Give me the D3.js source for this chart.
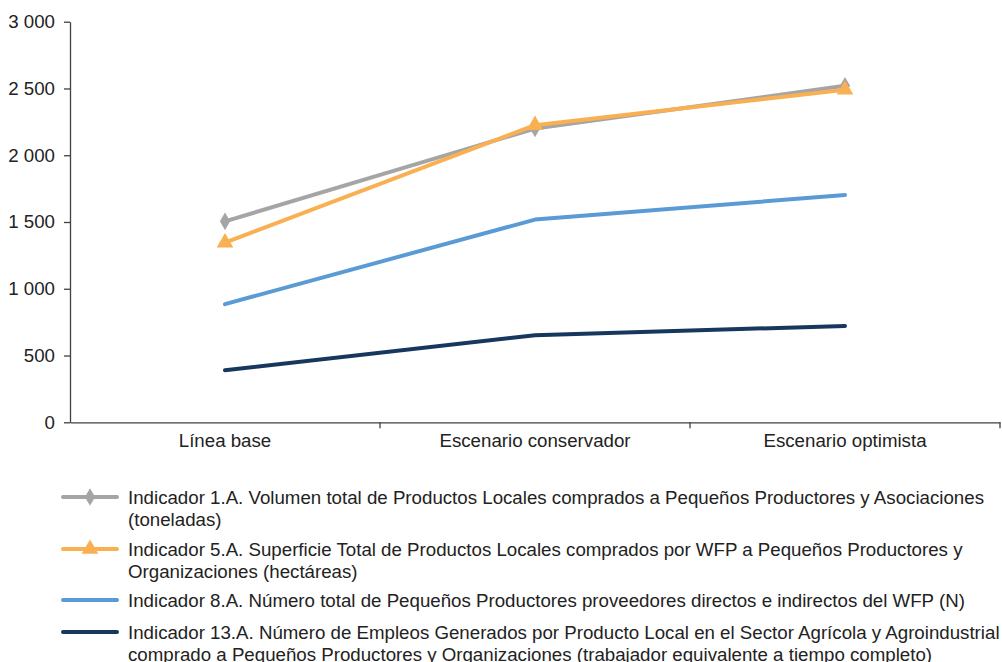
<!DOCTYPE html>
<html>
<head>
<meta charset="utf-8">
<script src="https://cdn.jsdelivr.net/npm/d3@7"></script>
<style>
  body { margin: 0; background: #fff; }
  svg { display: block; font-family: "Liberation Sans", Arial, sans-serif; }
</style>
</head>
<body>
<svg id="chart" width="1002" height="662"></svg>
<script>
const categories = ["Línea base", "Escenario conservador", "Escenario optimista"];
const yTicks = [0, 500, 1000, 1500, 2000, 2500, 3000];

const ind1 = [1505, 2200, 2520];
const ind5 = [1345, 2225, 2490];
const ind8 = [885, 1518, 1702];
const ind13 = [390, 652, 722];

const seriesNames = [
  ["Indicador 1.A. Volumen total de Productos Locales comprados a Pequeños Productores y Asociaciones", "(toneladas)"],
  ["Indicador 5.A. Superficie Total de Productos Locales comprados por WFP a Pequeños Productores y", "Organizaciones (hectáreas)"],
  ["Indicador 8.A. Número total de Pequeños Productores proveedores directos e indirectos del WFP (N)"],
  ["Indicador 13.A. Número de Empleos Generados por Producto Local en el Sector Agrícola y Agroindustrial", "comprado a Pequeños Productores y Organizaciones (trabajador equivalente a tiempo completo)"]
];

const series = [
  { values: ind1, color: "#a5a5a5", marker: "diamond", name: seriesNames[0] },
  { values: ind5, color: "#f8b052", marker: "triangle", name: seriesNames[1] },
  { values: ind8, color: "#5b9bd5", marker: null, name: seriesNames[2] },
  { values: ind13, color: "#17375e", marker: null, name: seriesNames[3] }
];

const svg = d3.select("#chart");
const margin = { left: 70, right: 1000, top: 21.7, bottom: 422.3 };
const axisColor = "#404040";
const fontSize = "18.7px";
const fontFam = "'Liberation Sans', Arial, sans-serif";

const x = d3.scaleBand().domain(categories).range([margin.left, margin.right]);
const y = d3.scaleLinear().domain([0, 3000]).range([margin.bottom, margin.top]);

const fmt = v => d3.format(",")(v).replace(/,/g, " ");

// y axis
const yAxis = svg.append("g")
  .attr("transform", `translate(${margin.left},0)`)
  .call(d3.axisLeft(y).tickValues(yTicks).tickSize(6).tickFormat(fmt).tickSizeOuter(0));
yAxis.select(".domain").attr("stroke", axisColor).attr("stroke-width", 1.3);
yAxis.selectAll(".tick line").attr("stroke", axisColor).attr("stroke-width", 1.3);
yAxis.selectAll(".tick text").attr("x", -15).attr("fill", "#222")
  .style("font-size", fontSize).style("font-family", fontFam);

// x axis
const xAxis = svg.append("g")
  .attr("transform", `translate(0,${margin.bottom})`)
  .call(d3.axisBottom(x).tickSize(0).tickSizeOuter(0));
xAxis.select(".domain").attr("stroke", axisColor).attr("stroke-width", 1.3);
xAxis.selectAll(".tick text").attr("y", 11).attr("fill", "#222")
  .style("font-size", fontSize).style("font-family", fontFam);
// boundary ticks between categories
svg.append("g").selectAll("line")
  .data(categories.slice(1).concat(["__end"]))
  .join("line")
  .attr("x1", d => d === "__end" ? x.range()[1] : x(d))
  .attr("x2", d => d === "__end" ? x.range()[1] : x(d))
  .attr("y1", margin.bottom)
  .attr("y2", margin.bottom + 6)
  .attr("stroke", axisColor)
  .attr("stroke-width", 1.3);

const cx = c => x(c) + x.bandwidth() / 2;
const line = d3.line().x((d, i) => cx(categories[i])).y(d => y(d));

const symbolFor = m => m === "diamond"
  ? d3.symbol().type(d3.symbolDiamond).size(90)
  : d3.symbol().type(d3.symbolTriangle).size(120);

// orange drawn last so it sits over grey
[series[3], series[2], series[0], series[1]].forEach(s => {
  const g = svg.append("g");
  g.append("path")
    .datum(s.values)
    .attr("d", line)
    .attr("fill", "none")
    .attr("stroke", s.color)
    .attr("stroke-width", 4)
    .attr("stroke-linecap", "round")
    .attr("stroke-linejoin", "round");
  if (s.marker) {
    g.selectAll("path.m")
      .data(s.values)
      .join("path")
      .attr("class", "m")
      .attr("transform", (d, i) => `translate(${cx(categories[i])},${y(d)})`)
      .attr("d", symbolFor(s.marker))
      .attr("fill", s.color);
  }
});

// legend
const legendRows = [497, 549, 600, 632];
const legend = svg.append("g");
series.forEach((s, i) => {
  const g = legend.append("g").attr("transform", `translate(0,${legendRows[i]})`);
  g.append("line")
    .attr("x1", 63).attr("x2", 117).attr("y1", 0).attr("y2", 0)
    .attr("stroke", s.color).attr("stroke-width", 4).attr("stroke-linecap", "round");
  if (s.marker) {
    g.append("path")
      .attr("transform", `translate(90,0)`)
      .attr("d", symbolFor(s.marker))
      .attr("fill", s.color);
  }
  const t = g.append("text")
    .attr("x", 128)
    .attr("y", 0)
    .attr("fill", "#222")
    .style("font-size", fontSize);
  s.name.forEach((ln, j) => {
    t.append("tspan").attr("x", 128).attr("dy", j === 0 ? "0.35em" : "22px").text(ln);
  });
});
</script>
</body>
</html>
